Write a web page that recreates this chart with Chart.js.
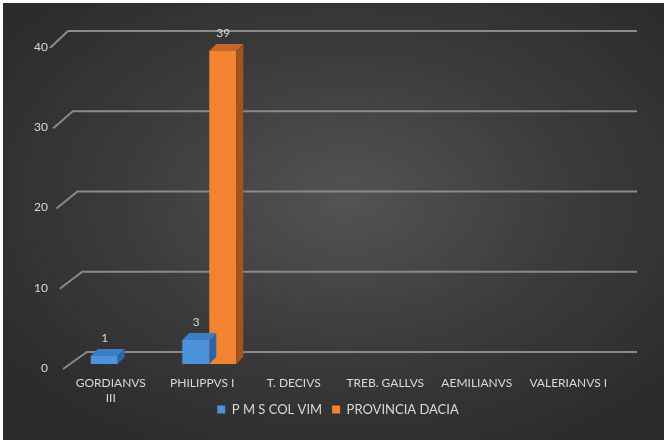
<!DOCTYPE html>
<html>
<head>
<meta charset="utf-8">
<script src="https://cdn.jsdelivr.net/npm/chart.js@4"></script>
<style>
  html, body { margin: 0; padding: 0; background: #fff; }
  #marco {
    position: absolute; left: 3px; top: 3px; width: 661px; height: 437px;
    background: radial-gradient(ellipse 65% 65% at 52% 45%, #535353 0%, #3a3a3a 55%, #2b2b2b 100%);
  }
</style>
</head>
<body>
<div id="marco"><canvas id="grafico" width="661" height="437"></canvas></div>
<script>
// Datos del gráfico
const emperadores = [['GORDIANVS', 'III'], 'PHILIPPVS I', 'T. DECIVS', 'TREB. GALLVS', 'AEMILIANVS', 'VALERIANVS I'];
const colVim = [1, 3, null, null, null, null];
const dacia = [null, 39, null, null, null, null];
const ticksY = [0, 10, 20, 30, 40];

const colorTexto = '#d9d9d9';
const fuente = 'Lato, "Liberation Sans", sans-serif';

// Caras laterales y superiores para el efecto 3D
const PROF = 7;
const caras = [
  { frente: '#4c93dc', arriba: '#3c7dca', lado: '#2d64a6' },
  { frente: '#f2832f', arriba: '#c5662a', lado: '#a6531f' }
];

// rejilla en perspectiva (pared del fondo)
const rejilla3d = {
  id: 'rejilla3d',
  afterLayout(chart) {
    // la leyenda va centrada en todo el ancho, no solo en el área
    const leyenda = chart.legend;
    leyenda.left += 26;
    leyenda.right += 26;
    leyenda.top -= 14;
    leyenda.bottom -= 14;
  },
  beforeDatasetsDraw(chart) {
    const { ctx, chartArea, scales } = chart;
    const y = scales.y;
    ctx.save();
    ctx.strokeStyle = '#8a8a8a';
    ctx.lineWidth = 2;
    ticksY.forEach(v => {
      const py = y.getPixelForValue(v);
      const t = 1 - v / y.max;
      const atrasY = py - 12;
      const atrasX = chartArea.left - 4 + t * 19;
      ctx.beginPath();
      ctx.moveTo(atrasX - 18 - t * 6, atrasY + 17);
      ctx.lineTo(atrasX, atrasY);
      ctx.lineTo(chartArea.right + 16, atrasY);
      ctx.stroke();
    });
    ctx.restore();
  },
  afterDatasetsDraw(chart) {
    const { ctx } = chart;
    ctx.save();
    chart.data.datasets.forEach((ds, i) => {
      const meta = chart.getDatasetMeta(i);
      const c = caras[i];
      meta.data.forEach((bar, j) => {
        if (ds.data[j] === null) return;
        const izq = bar.x - bar.width / 2;
        const der = bar.x + bar.width / 2;
        // cara superior
        ctx.fillStyle = c.arriba;
        ctx.beginPath();
        ctx.moveTo(izq, bar.y);
        ctx.lineTo(der, bar.y);
        ctx.lineTo(der + PROF, bar.y - PROF);
        ctx.lineTo(izq + PROF, bar.y - PROF);
        ctx.closePath();
        ctx.fill();
        // cara lateral
        ctx.fillStyle = c.lado;
        ctx.beginPath();
        ctx.moveTo(der, bar.y);
        ctx.lineTo(der + PROF, bar.y - PROF);
        ctx.lineTo(der + PROF, bar.base - PROF);
        ctx.lineTo(der, bar.base);
        ctx.closePath();
        ctx.fill();
        // etiqueta de valor
        ctx.fillStyle = colorTexto;
        ctx.font = '12px ' + fuente;
        ctx.textAlign = 'center';
        ctx.textBaseline = 'middle';
        ctx.fillText(ds.data[j], bar.x + PROF / 2 - 3, bar.y - 18);
      });
    });
    ctx.restore();
  }
};

const ctx = document.getElementById('grafico').getContext('2d');
new Chart(ctx, {
  type: 'bar',
  data: {
    labels: emperadores,
    datasets: [
      {
        label: 'P M S COL VIM',
        data: colVim,
        backgroundColor: caras[0].frente,
        borderWidth: 0,
        categoryPercentage: 0.59,
        barPercentage: 1
      },
      {
        label: 'PROVINCIA DACIA',
        data: dacia,
        backgroundColor: caras[1].frente,
        borderWidth: 0,
        categoryPercentage: 0.59,
        barPercentage: 1
      }
    ]
  },
  options: {
    responsive: false,
    animation: false,
    layout: { padding: { top: 40, right: 43, left: 0, bottom: 0 } },
    plugins: {
      tooltip: { enabled: false },
      legend: {
        position: 'bottom',
        labels: {
          color: colorTexto,
          font: { family: fuente, size: 13 },
          boxWidth: 8,
          boxHeight: 8,
          padding: 10
        }
      }
    },
    scales: {
      x: {
        grid: { display: false },
        border: { display: false },
        ticks: {
          color: colorTexto,
          font: { family: fuente, size: 12, lineHeight: 1.3 },
          maxRotation: 0,
          autoSkip: false,
          padding: 3,
          labelOffset: -7
        },
        afterFit(scale) { scale.height = 43; }
      },
      y: {
        min: 0,
        max: 40,
        grid: { display: false },
        border: { display: false },
        ticks: {
          color: colorTexto,
          font: { family: fuente, size: 12 },
          stepSize: 10,
          padding: 16,
          labelOffset: 4
        },
        afterFit(scale) { scale.width = 69; }
      }
    }
  },
  plugins: [rejilla3d]
});
</script>
</body>
</html>
